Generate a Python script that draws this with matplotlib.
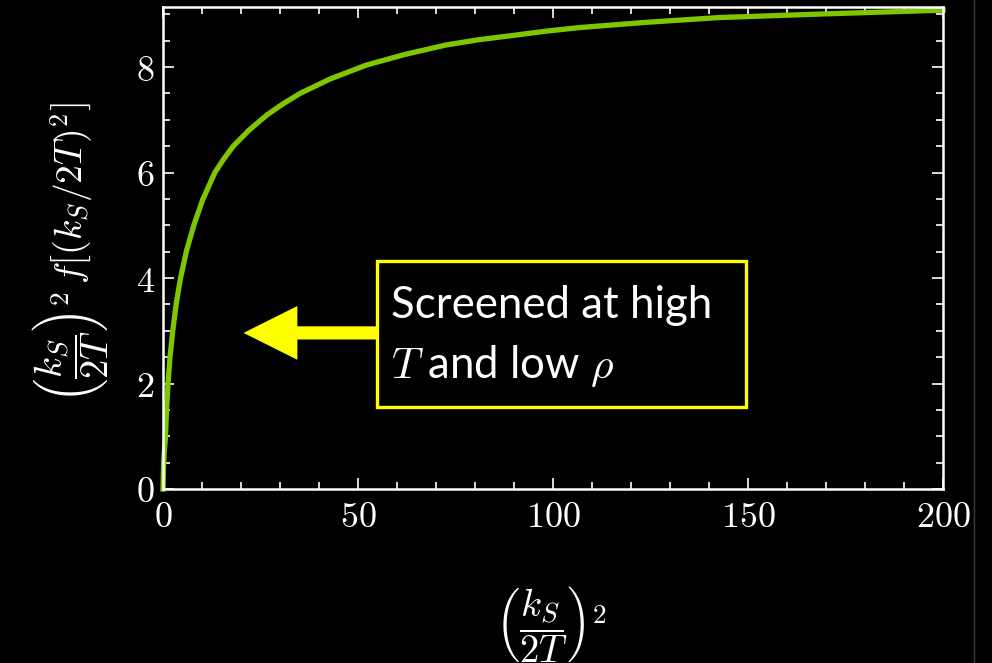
import matplotlib
matplotlib.use("Agg")
import matplotlib.pyplot as plt
from matplotlib.lines import Line2D
from matplotlib.patches import Rectangle
from matplotlib.ticker import MultipleLocator

plt.rcParams['mathtext.fontset'] = 'cm'
plt.rcParams['font.family'] = ['Lato', 'DejaVu Sans']

# screened curve, read point by point
ks2 = [0, 0.15, 0.3, 0.6, 0.95, 1.3, 1.8, 2.5, 3.4, 4.5, 6.0, 7.9, 10.2, 13.3,
       15.5, 18, 22, 26.6, 30.5, 35.1, 43, 52.2, 62, 72.6, 81, 89.7, 98, 106.8,
       124, 142.6, 170, 200]
screened = [0, 0.45, 0.68, 0.95, 1.57, 2.0, 2.5, 3.0, 3.52, 4.0, 4.51, 5.0, 5.49, 6.0,
            6.25, 6.5, 6.8, 7.09, 7.29, 7.5, 7.78, 8.04, 8.24, 8.42, 8.52, 8.6, 8.68, 8.75,
            8.85, 8.94, 9.01, 9.08]

x_ticks = [0, 50, 100, 150, 200]
y_ticks = [0, 2, 4, 6, 8]
note = ["Screened at high", r"$T$ and low $\rho$"]

fig = plt.figure(figsize=(9.92, 6.63), dpi=100, facecolor='black')
ax = fig.add_axes([163/992, 1 - 489/663, 780/992, 482/663])
ax.set_facecolor('black')

ax.plot(ks2, screened, color='#7fc600', lw=3.8, solid_joinstyle='round', clip_on=False)

ax.set_xlim(0, 200)
ax.set_ylim(0, 9.14)
ax.set_xticks(x_ticks)
ax.set_yticks(y_ticks)
ax.set_xticklabels([rf'${t}$' for t in x_ticks])
ax.set_yticklabels([rf'${t}$' for t in y_ticks])
ax.xaxis.set_minor_locator(MultipleLocator(10))
ax.yaxis.set_minor_locator(MultipleLocator(0.5))
ax.tick_params(which='both', direction='in', top=True, right=True, colors='white',
               labelsize=26, width=1.2)
ax.tick_params(which='major', length=8)
ax.tick_params(which='minor', length=5)
ax.tick_params(axis='x', pad=8)
ax.tick_params(axis='y', pad=6)
for sp in ax.spines.values():
    sp.set_color('white')
    sp.set_linewidth(1.8)

# annotation box and arrow
ax.add_patch(Rectangle((54.95, 1.555), 94.65, 2.765, fill=False, ec='#ffff00', lw=2.4))
ax.arrow(54.95, 2.96, -34.3, 0, width=0.25, head_width=1.02, head_length=13.8,
         length_includes_head=True, color='#ffff00', lw=0)
ax.text(58.4, 3.24, note[0], color='white', fontsize=31.5, va='baseline', ha='left')
ax.text(58.4, 2.10, note[1], color='white', fontsize=31.5, va='baseline', ha='left')

# axis labels
fig.text(551/992, 1 - 624/663, r'$\left(\dfrac{k_S}{2T}\right)^2$', color='white',
         fontsize=28, ha='center', va='center')
fig.text(70/992, 1 - 347/663, r'$\left(\dfrac{k_S}{2T}\right)^2$', color='white',
         fontsize=28, ha='center', va='center', rotation=90)
fig.text(72/992, 1 - 193/663, r'$f\left[(k_S/2T)^2\right]$', color='white',
         fontsize=27, ha='center', va='center', rotation=90)

fig.add_artist(Line2D([974/992, 974/992], [0, 1], color='#3a3a3a', lw=1))

fig.savefig('out.png', dpi=100, facecolor='black')
